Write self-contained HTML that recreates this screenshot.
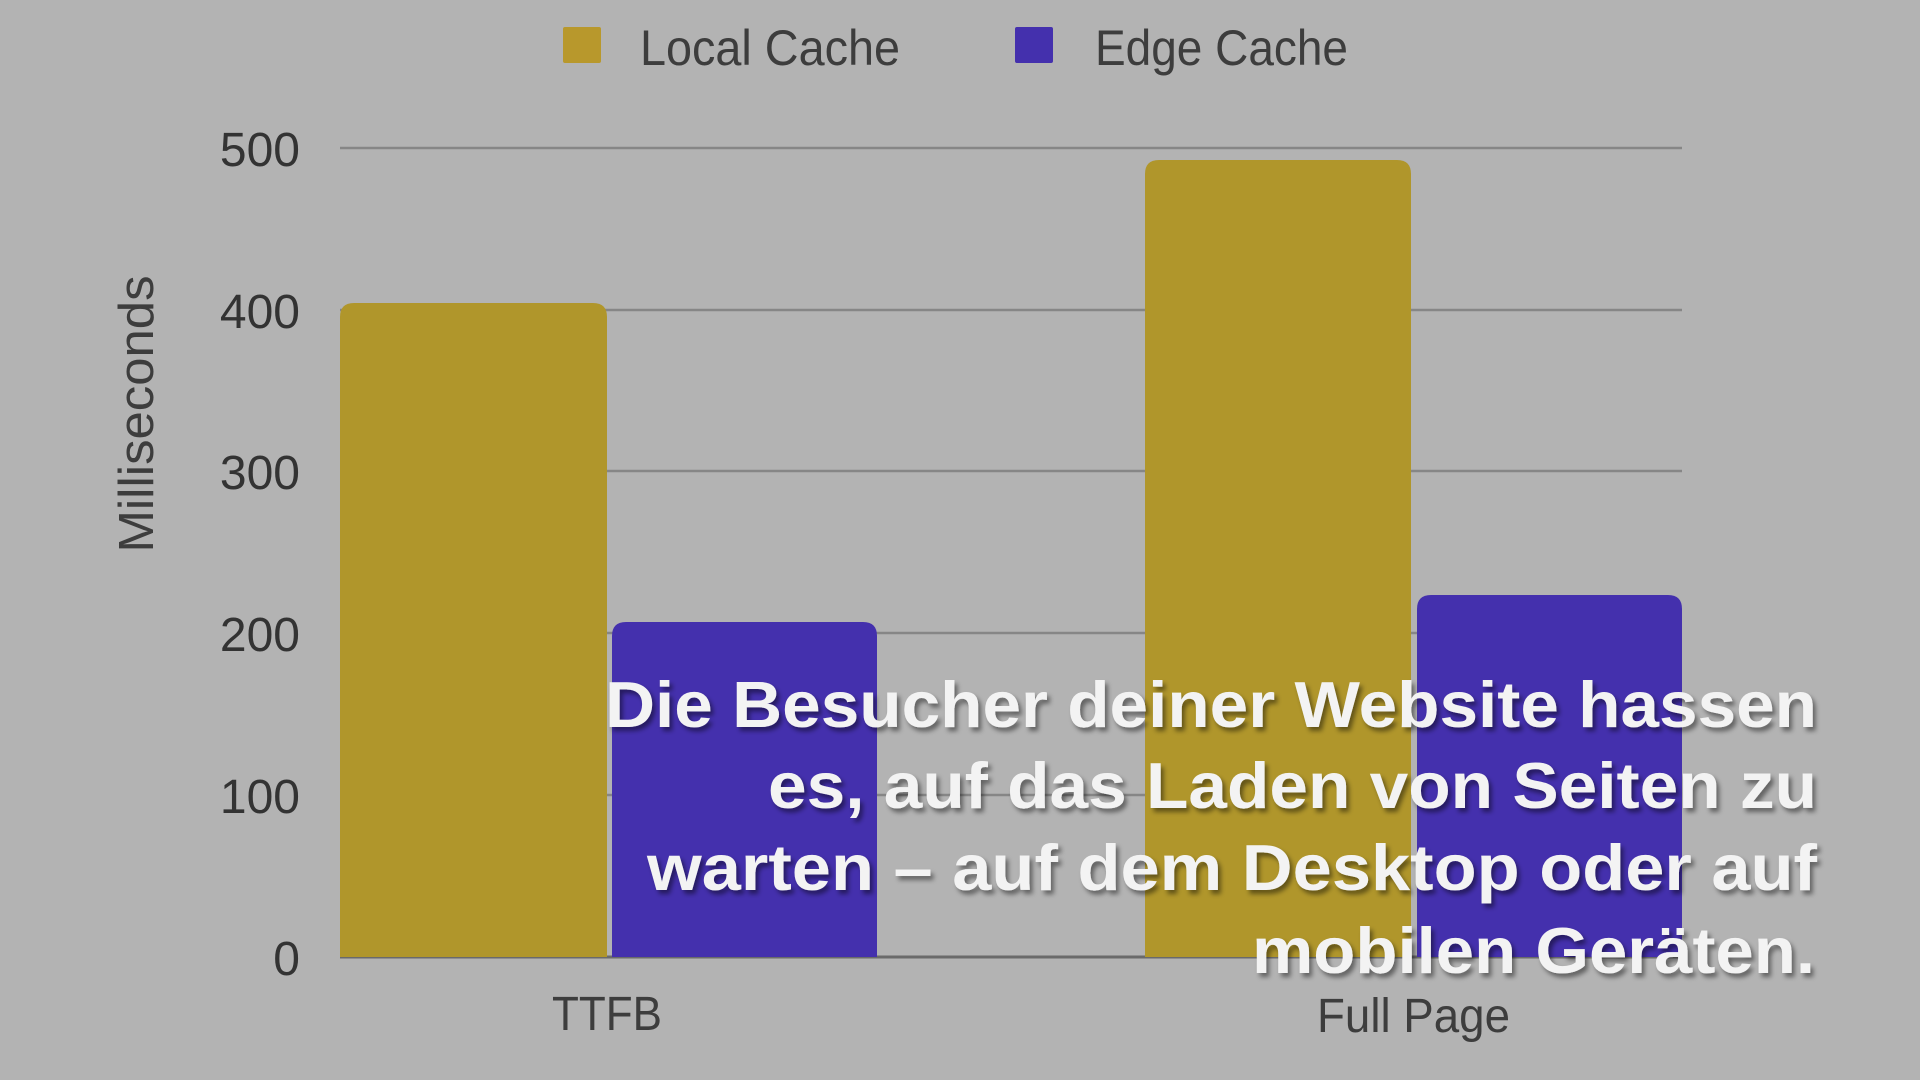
<!DOCTYPE html>
<html>
<head>
<meta charset="utf-8">
<style>
  html, body { margin: 0; padding: 0; background: #b3b3b3; }
  body { width: 1920px; height: 1080px; overflow: hidden; }
  svg { display: block; }
</style>
</head>
<body>
<svg width="1920" height="1080" viewBox="0 0 1920 1080" xmlns="http://www.w3.org/2000/svg">
  <defs>
    <filter id="sh" x="-5%" y="-20%" width="110%" height="150%">
      <feDropShadow dx="3" dy="4" stdDeviation="2.5" flood-color="#000" flood-opacity="0.45"/>
    </filter>
  </defs>
  <rect x="0" y="0" width="1920" height="1080" fill="#b3b3b3"/>

  <!-- Legend -->
  <rect x="563" y="27" width="38" height="36" rx="2" fill="#b8982c"/>
  <text x="640" y="65" font-family="Liberation Sans, sans-serif" font-size="50" fill="#3d3d3d" textLength="260" lengthAdjust="spacingAndGlyphs">Local Cache</text>
  <rect x="1015" y="27" width="38" height="36" rx="2" fill="#4430ad"/>
  <text x="1095" y="65" font-family="Liberation Sans, sans-serif" font-size="50" fill="#3d3d3d" textLength="253" lengthAdjust="spacingAndGlyphs">Edge Cache</text>

  <!-- Gridlines -->
  <g stroke="#868686" stroke-width="2.5">
    <line x1="340" y1="148" x2="1682" y2="148"/>
    <line x1="340" y1="310" x2="1682" y2="310"/>
    <line x1="340" y1="471" x2="1682" y2="471"/>
    <line x1="340" y1="633" x2="1682" y2="633"/>
    <line x1="340" y1="795" x2="1682" y2="795"/>
  </g>
  <line x1="340" y1="957" x2="1682" y2="957" stroke="#6a6a6a" stroke-width="3"/>

  <!-- Y labels -->
  <g font-family="Liberation Sans, sans-serif" font-size="48" fill="#333" text-anchor="end">
    <text x="300" y="166">500</text>
    <text x="300" y="328">400</text>
    <text x="300" y="489">300</text>
    <text x="300" y="651">200</text>
    <text x="300" y="813">100</text>
    <text x="300" y="975">0</text>
  </g>

  <!-- Y axis title -->
  <text transform="translate(153,414) rotate(-90)" text-anchor="middle" font-family="Liberation Sans, sans-serif" font-size="49" fill="#3d3d3d" textLength="277" lengthAdjust="spacingAndGlyphs">Milliseconds</text>

  <!-- Bars -->
  <path d="M340,957 V317 Q340,303 354,303 H593 Q607,303 607,317 V957 Z" fill="#b0962b"/>
  <path d="M612,957 V636 Q612,622 626,622 H863 Q877,622 877,636 V957 Z" fill="#4430ad"/>
  <path d="M1145,957 V174 Q1145,160 1159,160 H1397 Q1411,160 1411,174 V957 Z" fill="#b0962b"/>
  <path d="M1417,957 V609 Q1417,595 1431,595 H1668 Q1682,595 1682,609 V957 Z" fill="#4430ad"/>

  <!-- X labels -->
  <g font-family="Liberation Sans, sans-serif" font-size="48" fill="#3d3d3d">
    <text x="552" y="1030" textLength="110" lengthAdjust="spacingAndGlyphs">TTFB</text>
    <text x="1317" y="1032" textLength="193" lengthAdjust="spacingAndGlyphs">Full Page</text>
  </g>

  <!-- Subtitle -->
  <g font-family="Liberation Sans, sans-serif" font-size="65" font-weight="bold" fill="#f3f3f3" filter="url(#sh)">
    <text x="605" y="727" textLength="1212" lengthAdjust="spacingAndGlyphs">Die Besucher deiner Website hassen</text>
    <text x="768" y="808" textLength="1049" lengthAdjust="spacingAndGlyphs">es, auf das Laden von Seiten zu</text>
    <text x="647" y="890" textLength="1170" lengthAdjust="spacingAndGlyphs">warten – auf dem Desktop oder auf</text>
    <text x="1252" y="973" textLength="563" lengthAdjust="spacingAndGlyphs">mobilen Geräten.</text>
  </g>
</svg>
</body>
</html>
